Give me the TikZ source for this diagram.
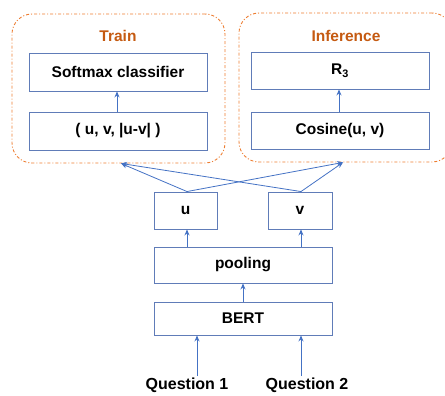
\documentclass[tikz,border=0pt]{standalone}
\usepackage{fontspec}
\setmainfont{Liberation Sans}
\usetikzlibrary{arrows.meta}
\definecolor{boxblue}{RGB}{96,124,184}
\definecolor{arrblue}{RGB}{68,114,196}
\definecolor{orgline}{RGB}{237,125,49}
\definecolor{orgtext}{RGB}{197,90,17}
\tikzset{
  blk/.style={draw=boxblue, line width=0.9pt, rectangle, inner sep=0pt, font=\fontsize{15.5}{18}\selectfont\bfseries, text=black},
  grp/.style={draw=orgline, line width=0.9pt, rounded corners=20pt, dash pattern=on 3pt off 2pt on 1pt off 2pt, inner sep=0pt},
  ttl/.style={font=\fontsize{15.5}{18}\selectfont\bfseries, text=orgtext},
  qtxt/.style={font=\fontsize{16}{19}\selectfont\bfseries, text=black, inner sep=2pt},
  arr/.style={draw=arrblue, line width=0.8pt, -{Stealth[length=6pt,width=5pt]}}
}
\begin{document}
\begin{tikzpicture}[x=1pt,y=-1pt]
\useasboundingbox (0,0) rectangle (445,396);
\begin{scope}
\clip (0,0) rectangle (445,396);
\node[grp, minimum width=213pt, minimum height=149pt] (train) at (118.5,88.5) {};
\node[grp, minimum width=213pt, minimum height=149pt] (infer) at (345.5,87.5) {};
\end{scope}
\node[ttl] (traint) at (118,36) {Train};
\node[ttl] (infert) at (346,36) {Inference};

\node[blk, minimum width=178pt, minimum height=38pt] (soft) at (118,72) {Softmax classifier};
\node[blk, minimum width=178pt, minimum height=38pt] (uv) at (118,131) {( u, v, |u-v| )};
\node[blk, minimum width=178pt, minimum height=37pt] (r3) at (340,70.5) {R\textsubscript{3}};
\node[blk, minimum width=178pt, minimum height=37pt] (cos) at (340,130.5) {Cosine(u, v)};

\node[blk, minimum width=63pt, minimum height=37pt] (u) at (185.5,210.5) {u};
\node[blk, minimum width=64pt, minimum height=37pt] (v) at (300,210.5) {v};
\node[blk, minimum width=178pt, minimum height=36pt] (pool) at (243,265) {pooling};
\node[blk, minimum width=178pt, minimum height=33pt] (bert) at (243,318.5) {BERT};

\node[qtxt, anchor=north] (q1) at (187,376) {Question 1};
\node[qtxt, anchor=north] (q2) at (307,376) {Question 2};

\coordinate (ta) at (train.south -| 121,0);
\coordinate (ia) at (infer.south -| 343,0);
\coordinate (ut) at (u.north -| 187,0);
\coordinate (vt) at (v.north -| 301,0);

\draw[arr] (uv.north -| 117,0) -- (soft.south -| 117,0);
\draw[arr] (cos.north -| 339,0) -- (r3.south -| 339,0);
\draw[arr] (ut) -- (ta);
\draw[arr] (ut) -- (ia);
\draw[arr] (vt) -- (ta);
\draw[arr] (vt) -- (ia);
\draw[arr] (pool.north -| ut) -- (u.south -| ut);
\draw[arr] (pool.north -| vt) -- (v.south -| vt);
\draw[arr] (bert.north) -- (pool.south);
\draw[arr] ([xshift=10pt]q1.north) -- ([xshift=10pt]q1.north |- bert.south);
\draw[arr] ([xshift=-6pt]q2.north) -- ([xshift=-6pt]q2.north |- bert.south);
\end{tikzpicture}
\end{document}
